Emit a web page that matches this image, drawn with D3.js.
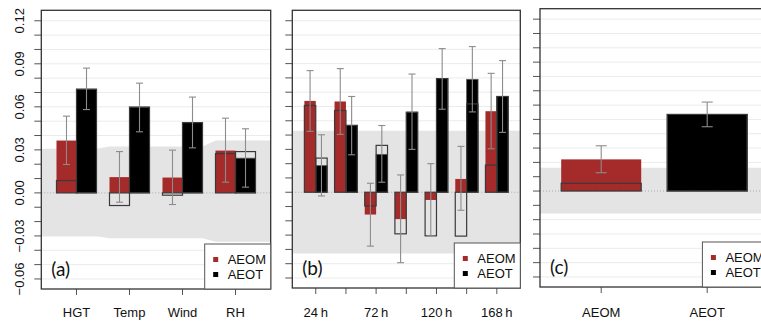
<!DOCTYPE html>
<html>
<head>
<meta charset="utf-8">
<script src="https://cdn.jsdelivr.net/npm/d3@7"></script>
<style>
body { margin: 0; background: #fff; }
svg { display: block; }
.lab { font-family: "Liberation Sans", Arial, sans-serif; font-size: 13px; fill: #111; }
.tag { font-family: Lato, "Open Sans", sans-serif; font-size: 19px; fill: #111; }
</style>
</head>
<body>
<div id="chart"></div>
<script>
// ---- panel (a): by variable
var varsA = ["HGT", "Temp", "Wind", "RH"];
var aeomA = [0.0365, 0.0110, 0.0107, 0.0295];
var aeomHollowA = [0.0086, -0.0088, -0.0016, 0.0274];
var aeomLoA = [0.0198, -0.0065, -0.0081, 0.0075];
var aeomHiA = [0.0535, 0.0288, 0.0298, 0.0521];
var aeotA = [0.0723, 0.0598, 0.0490, 0.0242];
var aeotHollowA = [0.0723, 0.0598, 0.0490, 0.0288];
var aeotLoA = [0.0581, 0.0426, 0.0314, 0.0040];
var aeotHiA = [0.0870, 0.0765, 0.0668, 0.0447];
var bandLoA = [-0.0302, -0.0316, -0.0316, -0.0340];
var bandHiA = [0.0307, 0.0323, 0.0323, 0.0365];

// ---- panel (b): by lead time
var hoursB = ["24 h", "48 h", "72 h", "96 h", "120 h", "144 h", "168 h"];
var hourLabelsB = ["24\u2009h", "", "72\u2009h", "", "120\u2009h", "", "168\u2009h"];
var aeomB = [0.0639, 0.0635, -0.0156, -0.0188, -0.0054, 0.0093, 0.0567];
var aeomHollowB = [0.0607, 0.0572, -0.0096, -0.0291, -0.0305, -0.0307, 0.0190];
var aeomLoB = [0.0426, 0.0405, -0.0377, -0.0493, -0.0305, -0.0126, 0.0304];
var aeomHiB = [0.0851, 0.0865, 0.0063, 0.0121, 0.0200, 0.0321, 0.0832];
var aeotB = [0.0186, 0.0468, 0.0265, 0.0560, 0.0795, 0.0790, 0.0670];
var aeotHollowB = [0.0239, 0.0468, 0.0328, 0.0560, 0.0795, 0.0618, 0.0670];
var aeotLoB = [-0.0026, 0.0262, 0.0070, 0.0300, 0.0581, 0.0562, 0.0419];
var aeotHiB = [0.0402, 0.0670, 0.0467, 0.0827, 0.1005, 0.1019, 0.0921];
var bandLoB = [-0.0428, -0.0428, -0.0428, -0.0428, -0.0428, -0.0428, -0.0428];
var bandHiB = [0.0430, 0.0430, 0.0430, 0.0430, 0.0430, 0.0430, 0.0430];

// ---- panel (c): overall
var catsC = ["AEOM", "AEOT"];
var valsC = [0.0221, 0.0535];
var hollowC = [0.0054, 0.0535];
var loC = [0.0128, 0.0449];
var hiC = [0.0316, 0.0621];
var bandLoC = [-0.0156, -0.0156];
var bandHiC = [0.0163, 0.0163];

var series = ["AEOM", "AEOT"];
var colors = {AEOM: "#A52A2A", AEOT: "#000000"};
var yTicks = d3.range(-6, 13).map(d => d / 100);
var yLabelTicks = [-0.06, -0.03, 0, 0.03, 0.06, 0.09, 0.12];

var W = 761, H = 323;
var svg = d3.select("#chart").append("svg")
    .attr("width", W)
    .attr("height", H);

function pairBars(cats, m, mh, mlo, mhi, t, th, tlo, thi) {
    var out = [];
    cats.forEach(function(c, i) {
        out.push({cat: c, s: "AEOM", v: m[i], h: mh[i], lo: mlo[i], hi: mhi[i]});
        out.push({cat: c, s: "AEOT", v: t[i], h: th[i], lo: tlo[i], hi: thi[i]});
    });
    return out;
}

var panels = [
    {cats: varsA, labels: varsA, pair: true, left: 41.3, right: 270.7, top: 10.3, bottom: 289,
     padOut: 0.2866, cap: 7, tag: "(a)", yLabels: true, bandLo: bandLoA, bandHi: bandHiA,
     bars: pairBars(varsA, aeomA, aeomHollowA, aeomLoA, aeomHiA, aeotA, aeotHollowA, aeotLoA, aeotHiA)},
    {cats: hoursB, labels: hourLabelsB, pair: true, left: 292.3, right: 520.3, top: 10.3, bottom: 288,
     padOut: 0.4, cap: 7, tag: "(b)", yLabels: false, bandLo: bandLoB, bandHi: bandHiB,
     bars: pairBars(hoursB, aeomB, aeomHollowB, aeomLoB, aeomHiB, aeotB, aeotHollowB, aeotLoB, aeotHiB)},
    {cats: catsC, labels: catsC, pair: false, left: 540, right: 768.4, top: 8.7, bottom: 287,
     padOut: 0.2, cap: 11, tag: "(c)", yLabels: false, bandLo: bandLoC, bandHi: bandHiC,
     bars: catsC.map((c, i) => ({cat: c, s: c, v: valsC[i], h: hollowC[i], lo: loC[i], hi: hiC[i]}))}
];

panels.forEach(drawPanel);

function drawPanel(p) {
    var g = svg.append("g");

    var y = d3.scaleLinear()
        .domain([-0.067, 0.1273])
        .range([p.bottom, p.top]);

    var x = d3.scaleBand()
        .domain(p.cats)
        .range([p.left, p.right])
        .paddingInner(0.245)
        .paddingOuter(p.padOut);

    var sub = d3.scaleBand()
        .domain(series)
        .range([0, x.bandwidth()]);

    var bx = d => x(d.cat) + (p.pair ? sub(d.s) : 0);
    var bw = p.pair ? sub.bandwidth() : x.bandwidth();

    // light grid
    g.append("g")
        .selectAll("line")
        .data(yTicks)
        .join("line")
            .attr("x1", p.left)
            .attr("x2", p.right)
            .attr("y1", d => y(d))
            .attr("y2", d => y(d))
            .attr("stroke", "#ebebeb")
            .attr("stroke-width", 1);

    // grey band
    var pts = [];
    p.cats.forEach(function(c, i) {
        var x0 = i === 0 ? p.left : x(c);
        var x1 = i === p.cats.length - 1 ? p.right : x(c) + x.bandwidth();
        pts.push({x: x0, lo: p.bandLo[i], hi: p.bandHi[i]});
        pts.push({x: x1, lo: p.bandLo[i], hi: p.bandHi[i]});
    });
    g.append("path")
        .datum(pts)
        .attr("fill", "#e4e4e4")
        .attr("d", d3.area()
            .x(d => d.x)
            .y0(d => y(d.lo))
            .y1(d => y(d.hi)));

    // dotted zero line
    g.append("line")
        .attr("x1", p.left)
        .attr("x2", p.right)
        .attr("y1", y(0))
        .attr("y2", y(0))
        .attr("stroke", "#aaaaaa")
        .attr("stroke-dasharray", "1,2");

    // filled bars
    g.append("g")
        .selectAll("rect")
        .data(p.bars)
        .join("rect")
            .attr("x", bx)
            .attr("width", bw)
            .attr("y", d => y(Math.max(0, d.v)))
            .attr("height", d => Math.abs(y(d.v) - y(0)))
            .attr("fill", d => colors[d.s])
            .attr("stroke", d => d.s === "AEOT" ? "#555" : "none")
            .attr("stroke-width", 0.8);

    // hollow bars
    g.append("g")
        .selectAll("rect")
        .data(p.bars)
        .join("rect")
            .attr("x", bx)
            .attr("width", bw)
            .attr("y", d => y(Math.max(0, d.h)))
            .attr("height", d => Math.abs(y(d.h) - y(0)))
            .attr("fill", "none")
            .attr("stroke", "#3a3a3a")
            .attr("stroke-width", 1.2);

    // error bars
    var eb = g.append("g")
        .attr("stroke", "#8c8c8c")
        .attr("stroke-width", 1.1)
        .selectAll("g")
        .data(p.bars)
        .join("g")
            .attr("transform", d => "translate(" + (bx(d) + bw / 2) + ",0)");
    eb.append("line")
        .attr("y1", d => y(d.lo))
        .attr("y2", d => y(d.hi));
    eb.append("line")
        .attr("x1", -p.cap / 2).attr("x2", p.cap / 2)
        .attr("y1", d => y(d.lo)).attr("y2", d => y(d.lo));
    eb.append("line")
        .attr("x1", -p.cap / 2).attr("x2", p.cap / 2)
        .attr("y1", d => y(d.hi)).attr("y2", d => y(d.hi));

    // y ticks
    g.append("g")
        .selectAll("line")
        .data(yTicks)
        .join("line")
            .attr("x1", p.left - 7)
            .attr("x2", p.left)
            .attr("y1", d => y(d))
            .attr("y2", d => y(d))
            .attr("stroke", "#555");

    if (p.yLabels) {
        g.append("g")
            .selectAll("text")
            .data(yLabelTicks)
            .join("text")
                .attr("class", "lab")
                .attr("text-anchor", "middle")
                .attr("transform", d => "translate(24," + y(d) + ") rotate(-90)")
                .text(d => d === 0 ? "0.00" : d3.format(".2f")(d).replace("-", "\u2212"));
    }

    // x ticks + labels
    g.append("g")
        .selectAll("line")
        .data(p.cats)
        .join("line")
            .attr("x1", d => x(d) + x.bandwidth() / 2)
            .attr("x2", d => x(d) + x.bandwidth() / 2)
            .attr("y1", p.bottom)
            .attr("y2", p.bottom + 6)
            .attr("stroke", "#555");
    g.append("g")
        .selectAll("text")
        .data(p.cats)
        .join("text")
            .attr("class", "lab")
            .attr("text-anchor", "middle")
            .attr("x", d => x(d) + x.bandwidth() / 2)
            .attr("y", 317)
            .text((d, i) => p.labels[i]);

    // frame
    g.append("rect")
        .attr("x", p.left)
        .attr("y", p.top)
        .attr("width", p.right - p.left)
        .attr("height", p.bottom - p.top)
        .attr("fill", "none")
        .attr("stroke", "#333")
        .attr("stroke-width", 1.3);

    // legend
    var lx = p.right - 66, ly = p.bottom - 45;
    g.append("rect")
        .attr("x", lx)
        .attr("y", ly)
        .attr("width", 66)
        .attr("height", 45)
        .attr("fill", "#fff")
        .attr("stroke", "#555")
        .attr("stroke-width", 1);
    var item = g.append("g")
        .selectAll("g")
        .data(series)
        .join("g")
            .attr("transform", (d, i) => "translate(" + lx + "," + (ly + 15.5 + i * 15) + ")");
    item.append("rect")
        .attr("x", 8.5)
        .attr("y", -2.5)
        .attr("width", 5)
        .attr("height", 5)
        .attr("fill", d => colors[d]);
    item.append("text")
        .attr("class", "lab")
        .attr("x", 23)
        .attr("y", 4.6)
        .text(d => d);

    g.append("text")
        .attr("class", "tag")
        .attr("x", p.left + 10)
        .attr("y", p.bottom - 13)
        .text(p.tag);
}
</script>
</body>
</html>
